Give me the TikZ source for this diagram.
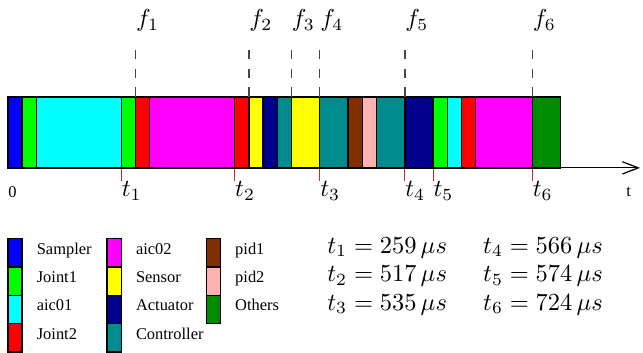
\documentclass[tikz,border=0pt]{standalone}
\usepackage[no-math]{fontspec}
\newfontfamily\legendfont{Liberation Serif}
\usepackage{xcolor}
\usepackage{tikz}
\usetikzlibrary{arrows.meta, positioning}

\definecolor{sampler}{RGB}{0,0,255}
\definecolor{jointone}{RGB}{0,255,0}
\definecolor{aicone}{RGB}{0,255,255}
\definecolor{jointtwo}{RGB}{255,0,0}
\definecolor{aictwo}{RGB}{255,0,255}
\definecolor{sensor}{RGB}{255,255,0}
\definecolor{actuator}{RGB}{0,0,140}
\definecolor{controller}{RGB}{0,140,140}
\definecolor{pidone}{RGB}{128,48,0}
\definecolor{pidtwo}{RGB}{255,178,178}
\definecolor{others}{RGB}{0,140,0}
\definecolor{tickred}{RGB}{200,40,40}

\begin{document}
\begin{tikzpicture}[
  x=5.78pt, y=-5.78pt,
  every node/.style={inner sep=0pt, anchor=base west},
  seg/.style={draw=black, line width=0.6pt},
  fline/.style={dash pattern=on 3.8pt off 3.8pt, line width=0.6pt, draw=black!72},
  tickline/.style={line width=0.5pt, draw=tickred},
  small/.style={font=\legendfont\fontsize{6.7}{8}\selectfont}
]
  \useasboundingbox (-0.565,-6.845) rectangle (44.81,18);
  % ----- execution bar -----
  \filldraw[seg, fill=sampler]    (0,0)  rectangle (1,5);
  \filldraw[seg, fill=jointone]   (1,0)  rectangle (2,5);
  \filldraw[seg, fill=aicone]     (2,0)  rectangle (8,5);
  \filldraw[seg, fill=jointone]   (8,0)  rectangle (9,5);
  \filldraw[seg, fill=jointtwo]   (9,0)  rectangle (10,5);
  \filldraw[seg, fill=aictwo]     (10,0) rectangle (16,5);
  \filldraw[seg, fill=jointtwo]   (16,0) rectangle (17,5);
  \filldraw[seg, fill=sensor]     (17,0) rectangle (18,5);
  \filldraw[seg, fill=actuator]   (18,0) rectangle (19,5);
  \filldraw[seg, fill=controller] (19,0) rectangle (20,5);
  \filldraw[seg, fill=sensor]     (20,0) rectangle (22,5);
  \filldraw[seg, fill=controller] (22,0) rectangle (24,5);
  \filldraw[seg, fill=pidone]     (24,0) rectangle (25,5);
  \filldraw[seg, fill=pidtwo]     (25,0) rectangle (26,5);
  \filldraw[seg, fill=controller] (26,0) rectangle (28,5);
  \filldraw[seg, fill=actuator]   (28,0) rectangle (30,5);
  \filldraw[seg, fill=jointone]   (30,0) rectangle (31,5);
  \filldraw[seg, fill=aicone]     (31,0) rectangle (32,5);
  \filldraw[seg, fill=jointtwo]   (32,0) rectangle (33,5);
  \filldraw[seg, fill=aictwo]     (33,0) rectangle (37,5);
  \filldraw[seg, fill=others]     (37,0) rectangle (39,5);
  % ----- time axis -----
  \coordinate (origin) at (0,5);
  \coordinate (tend) at (44.6,5);
  \draw[line width=0.5pt, -{Straight Barb[length=6.5pt, width=5pt]}] (origin) -- (tend);
  \node[small] (zero) at (0,7.06) {0};
  \node[small] (tlab) at (43.6,7.03) {t};
  % ----- f markers -----
  \node (f1) at (9,-4.94)  {$f_1$};
  \node (f2) at (17,-4.94) {$f_2$};
  \node (f3) at (20,-4.94) {$f_3$};
  \node (f4) at (22,-4.94) {$f_4$};
  \node (f5) at (28,-4.94) {$f_5$};
  \node (f6) at (37,-4.94) {$f_6$};
  \draw[fline] (9,-3.32)  coordinate (f1top) -- (9,0)  coordinate (f1bot);
  \draw[fline] (17,-3.32) coordinate (f2top) -- (17,0) coordinate (f2bot);
  \draw[fline] (20,-3.32) coordinate (f3top) -- (20,0) coordinate (f3bot);
  \draw[fline] (22,-3.32) coordinate (f4top) -- (22,0) coordinate (f4bot);
  \draw[fline] (28,-3.32) coordinate (f5top) -- (28,0) coordinate (f5bot);
  \draw[fline] (37,-3.32) coordinate (f6top) -- (37,0) coordinate (f6bot);
  % ----- t markers -----
  \draw[tickline] (8,5.05)  coordinate (t1a) -- (8,5.9)  coordinate (t1b);
  \draw[tickline] (16,5.05) coordinate (t2a) -- (16,5.9) coordinate (t2b);
  \draw[tickline] (22,5.05) coordinate (t3a) -- (22,5.9) coordinate (t3b);
  \draw[tickline] (28,5.05) coordinate (t4a) -- (28,5.9) coordinate (t4b);
  \draw[tickline] (30,5.05) coordinate (t5a) -- (30,5.9) coordinate (t5b);
  \draw[tickline] (37,5.05) coordinate (t6a) -- (37,5.9) coordinate (t6b);
  \node (t1) at (8,7.05)  {$t_1$};
  \node (t2) at (16,7.05) {$t_2$};
  \node (t3) at (22,7.05) {$t_3$};
  \node (t4) at (28,7.05) {$t_4$};
  \node (t5) at (30,7.05) {$t_5$};
  \node (t6) at (37,7.05) {$t_6$};
  % ----- legend -----
  \filldraw[seg, fill=sampler]    (0,10)  rectangle (1,12);
  \filldraw[seg, fill=jointone]   (0,12)  rectangle (1,14);
  \filldraw[seg, fill=aicone]     (0,14)  rectangle (1,16);
  \filldraw[seg, fill=jointtwo]   (0,16)  rectangle (1,18);
  \filldraw[seg, fill=aictwo]     (7,10)  rectangle (8,12);
  \filldraw[seg, fill=sensor]     (7,12)  rectangle (8,14);
  \filldraw[seg, fill=actuator]   (7,14)  rectangle (8,16);
  \filldraw[seg, fill=controller] (7,16)  rectangle (8,18);
  \filldraw[seg, fill=pidone]     (14,10) rectangle (15,12);
  \filldraw[seg, fill=pidtwo]     (14,12) rectangle (15,14);
  \filldraw[seg, fill=others]     (14,14) rectangle (15,16);
  \node[small] (lsampler) at (2,11.1)  {Sampler};
  \node[small] (ljoint1)  at (2,13.1)  {Joint1};
  \node[small] (laic01)   at (2,15.1)  {aic01};
  \node[small] (ljoint2)  at (2,17.1)  {Joint2};
  \node[small] (laic02)   at (9,11.1)  {aic02};
  \node[small] (lsensor)  at (9,13.1)  {Sensor};
  \node[small] (lactu)    at (9,15.1)  {Actuator};
  \node[small] (lctrl)    at (9,17.1)  {Controller};
  \node[small] (lpid1)    at (16,11.1) {pid1};
  \node[small] (lpid2)    at (16,13.1) {pid2};
  \node[small] (lothers)  at (16,15.1) {Others};
  % ----- time values -----
  \node (v1) at (22.5,11.03) {$t_1 = 259\,\mu s$};
  \node (v2) at (22.5,13.03) {$t_2 = 517\,\mu s$};
  \node (v3) at (22.5,15.05) {$t_3 = 535\,\mu s$};
  \node (v4) at (33.5,11.03) {$t_4 = 566\,\mu s$};
  \node (v5) at (33.5,13.03) {$t_5 = 574\,\mu s$};
  \node (v6) at (33.5,15.05) {$t_6 = 724\,\mu s$};
\end{tikzpicture}
\end{document}
